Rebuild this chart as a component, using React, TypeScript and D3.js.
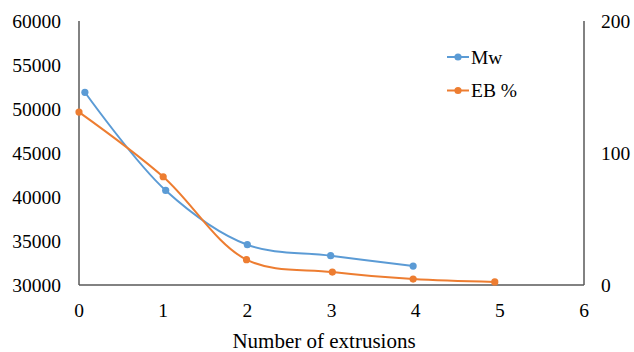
import React from "react";
import * as d3 from "d3";

const mwX = [0.07, 1.03, 2.0, 2.99, 3.97];
const mwY = [51900, 40750, 34580, 33330, 32150];
const ebX = [0.0, 1.0, 1.99, 3.01, 3.97, 4.94];
const ebY = [131, 82, 19.2, 9.8, 4.5, 2.3];
const xTicks = [0, 1, 2, 3, 4, 5, 6];
const leftTicks = [30000, 35000, 40000, 45000, 50000, 55000, 60000];
const rightTicks = [0, 100, 200];
const seriesNames = ["Mw", "EB %"];
const colors = ["#5B9BD5", "#ED7D31"];

const W = 634, H = 352;
const M = { left: 79, right: 584, top: 21, bottom: 285 };
const font = "'Liberation Serif', 'Times New Roman', serif";

export default function App() {
  const x = d3.scaleLinear().domain([0, 6]).range([M.left, M.right]);
  const yL = d3.scaleLinear().domain([30000, 60000]).range([M.bottom, M.top]);
  const yR = d3.scaleLinear().domain([0, 200]).range([M.bottom, M.top]);
  const curve = d3.curveCatmullRom.alpha(0.5);
  const mwPts: [number, number][] = mwX.map((v, i) => [x(v), yL(mwY[i])]);
  const ebPts: [number, number][] = ebX.map((v, i) => [x(v), yR(ebY[i])]);
  const line = d3.line().curve(curve);
  const axisColor = "#595959";
  return (
    <svg width={W} height={H} style={{ position: "absolute", left: 0, top: 0, background: "#fff" }}>
      <rect width={W} height={H} fill="#fff" />
      <g stroke={axisColor} strokeWidth={1.5}>
        <line x1={M.left} x2={M.left} y1={M.top} y2={M.bottom} />
        <line x1={M.right} x2={M.right} y1={M.top} y2={M.bottom} />
        <line x1={M.left} x2={M.right} y1={M.bottom} y2={M.bottom} />
      </g>
      <g fontFamily={font} fontSize={19.5} fill="#000">
        {leftTicks.map((t) => (
          <text key={t} x={61} y={yL(t)} textAnchor="end" dominantBaseline="central">{t}</text>
        ))}
        {rightTicks.map((t) => (
          <text key={t} x={601} y={yR(t)} textAnchor="start" dominantBaseline="central">{t}</text>
        ))}
        {xTicks.map((t) => (
          <text key={t} x={x(t)} y={310} textAnchor="middle" dominantBaseline="central">{t}</text>
        ))}
        <text x={324} y={341} fontSize={21} textAnchor="middle" dominantBaseline="central">Number of extrusions</text>
      </g>
      <path d={line(mwPts) || ""} fill="none" stroke={colors[0]} strokeWidth={2} />
      <path d={line(ebPts) || ""} fill="none" stroke={colors[1]} strokeWidth={2} />
      {mwPts.map((p, i) => <circle key={"m" + i} cx={p[0]} cy={p[1]} r={3.6} fill={colors[0]} />)}
      {ebPts.map((p, i) => <circle key={"e" + i} cx={p[0]} cy={p[1]} r={3.6} fill={colors[1]} />)}
      <g fontFamily={font} fontSize={19.5} fill="#000">
        {seriesNames.map((n, i) => (
          <g key={n} transform={`translate(447, ${57 + i * 33.5})`}>
            <line x1={0} x2={22} y1={0} y2={0} stroke={colors[i]} strokeWidth={2} />
            <circle cx={11} cy={0} r={3.6} fill={colors[i]} />
            <text x={24} y={0} dominantBaseline="central">{n}</text>
          </g>
        ))}
      </g>
    </svg>
  );
}
